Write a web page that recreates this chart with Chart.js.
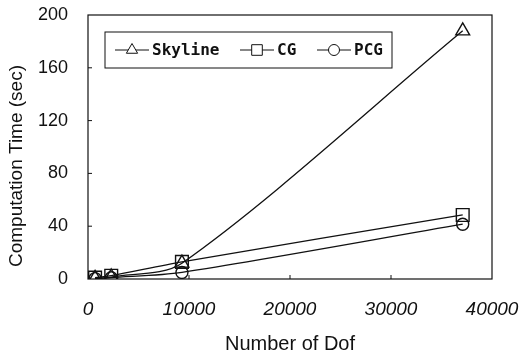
<!DOCTYPE html>
<html>
<head>
<meta charset="utf-8">
<script src="https://cdn.jsdelivr.net/npm/chart.js@4"></script>
<style>
  html, body { margin: 0; padding: 0; background: #fff; }
  #wrap { width: 519px; height: 356px; }
</style>
</head>
<body>
<div id="wrap"><canvas id="chartTime" width="519" height="356"></canvas></div>
<script>
/* ---------- data ---------- */
const dofs = [700, 2300, 9300, 37100];
const skylineTime = [0.5, 1.5, 12, 188];
const cgTime = [1, 2.5, 13, 48.5];
const pcgTime = [0.3, 1, 5, 41.5];

const seriesNames = ["Skyline", "CG", "PCG"];
const xTicks = [0, 10000, 20000, 30000, 40000];
const yTicks = [0, 40, 80, 120, 160, 200];
const yTitle = "Computation Time (sec)";

function toPoints(vals) {
    return vals.map((v, i) => ({ x: dofs[i], y: v }));
}

/* ---------- frame, inner ticks, legend box, y title ---------- */
const framePlugin = {
    id: "frame",
    afterDraw(chart) {
        const ctx = chart.ctx;
        const a = chart.chartArea;
        const xs = chart.scales.x, ys = chart.scales.y;
        ctx.save();
        ctx.strokeStyle = "#111";
        ctx.lineWidth = 1.2;
        ctx.strokeRect(a.left, a.top, a.right - a.left, a.bottom - a.top);

        ctx.lineWidth = 1;
        ctx.beginPath();
        xTicks.slice(1, -1).forEach(t => {
            const px = xs.getPixelForValue(t);
            ctx.moveTo(px, a.bottom);
            ctx.lineTo(px, a.bottom - 4);
        });
        yTicks.slice(1, -1).forEach(t => {
            const py = ys.getPixelForValue(t);
            ctx.moveTo(a.left, py);
            ctx.lineTo(a.left + 4, py);
        });
        ctx.stroke();

        // legend inside the plot
        const bx = a.left + 17, by = a.top + 17, bw = 287, bh = 36;
        ctx.strokeRect(bx, by, bw, bh);
        const cy = by + bh / 2;
        const items = [
            { x: bx + 10, style: "triangle", r: 6.5 },
            { x: bx + 135, style: "rect", r: 7.5 },
            { x: bx + 212, style: "circle", r: 5.5 }
        ];
        ctx.font = "bold 16px 'DejaVu Sans Mono', 'Liberation Mono', monospace";
        ctx.textBaseline = "middle";
        items.forEach((it, i) => {
            ctx.beginPath();
            ctx.moveTo(it.x, cy);
            ctx.lineTo(it.x + 34, cy);
            ctx.stroke();
            ctx.fillStyle = "#fff";
            Chart.helpers.drawPoint(ctx, {
                pointStyle: it.style, radius: it.r, borderWidth: 1.3, rotation: 0
            }, it.x + 17, cy);
            ctx.fillStyle = "#111";
            ctx.fillText(seriesNames[i], it.x + 37, cy + 1);
        });

        // y axis title
        ctx.translate(17, 166);
        ctx.rotate(-Math.PI / 2);
        ctx.font = "19px 'Liberation Sans', Arial, sans-serif";
        ctx.textAlign = "center";
        ctx.fillText(yTitle, 0, 0);
        ctx.restore();
    }
};

/* ---------- chart ---------- */
const common = {
    borderColor: "#111",
    backgroundColor: "rgba(0,0,0,0)",
    pointBorderColor: "#111",
    pointBackgroundColor: "rgba(0,0,0,0)",
    borderWidth: 1.3,
    pointBorderWidth: 1.4,
    tension: 0.3
};

new Chart(document.getElementById("chartTime"), {
    type: "line",
    data: {
        datasets: [
            Object.assign({ label: seriesNames[0], data: toPoints(skylineTime), pointStyle: "triangle", pointRadius: 8 }, common),
            Object.assign({ label: seriesNames[1], data: toPoints(cgTime), pointStyle: "rect", pointRadius: 9 }, common),
            Object.assign({ label: seriesNames[2], data: toPoints(pcgTime), pointStyle: "circle", pointRadius: 6 }, common)
        ]
    },
    options: {
        responsive: false,
        animation: false,
        layout: { padding: { top: 15, right: 27, left: 0, bottom: 0 } },
        plugins: { legend: { display: false }, tooltip: { enabled: false } },
        scales: {
            x: {
                type: "linear",
                min: 0, max: 40000,
                afterBuildTicks: s => { s.ticks = xTicks.map(v => ({ value: v })); },
                afterFit: s => { s.height = 77; s.paddingLeft = 0; s.paddingRight = 0; },
                grid: { display: false, drawTicks: false },
                border: { display: false },
                ticks: {
                    color: "#111",
                    padding: 19,
                    maxRotation: 0,
                    font: { family: "'Liberation Sans', Arial, sans-serif", size: 19, style: "italic" },
                    callback: v => String(v)
                },
                title: {
                    display: true,
                    text: "Number of Dof",
                    color: "#111",
                    padding: { top: 0, bottom: 0 },
                    font: { family: "'Liberation Sans', Arial, sans-serif", size: 20 }
                }
            },
            y: {
                min: 0, max: 200,
                afterBuildTicks: s => { s.ticks = yTicks.map(v => ({ value: v })); },
                afterFit: s => { s.width = 88; s.paddingTop = 0; s.paddingBottom = 0; },
                grid: { display: false, drawTicks: false },
                border: { display: false },
                ticks: {
                    color: "#111",
                    padding: 20,
                    font: { family: "'Liberation Sans', Arial, sans-serif", size: 18 }
                }
            }
        }
    },
    plugins: [framePlugin]
});
</script>
</body>
</html>
